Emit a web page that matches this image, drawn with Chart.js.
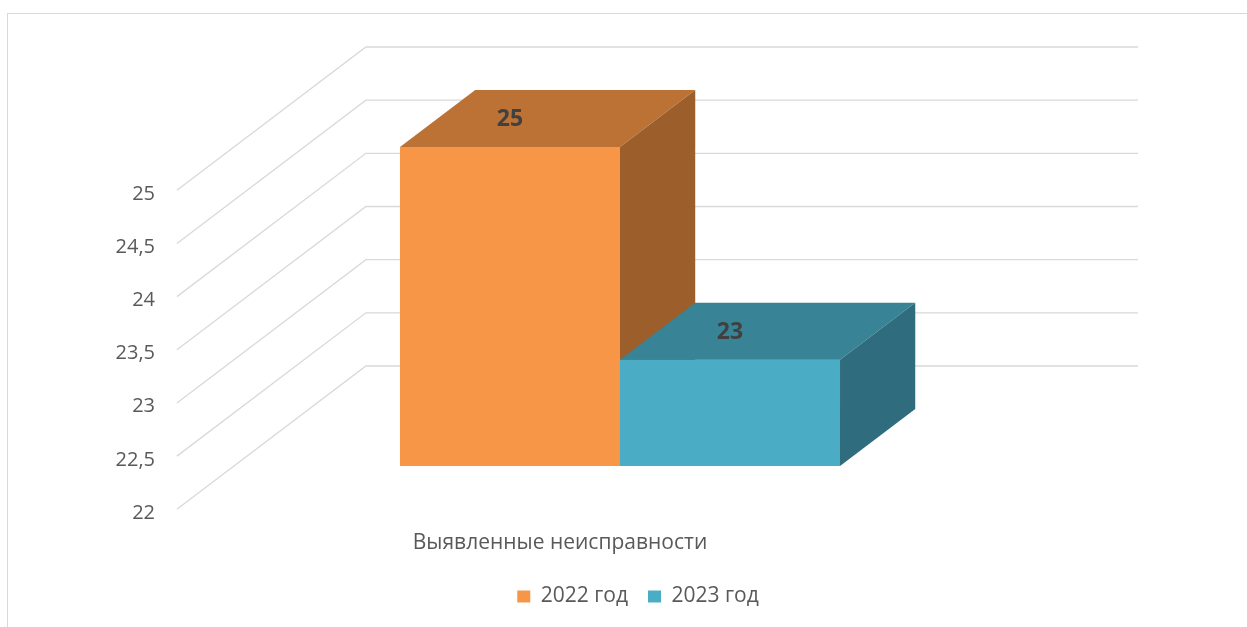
<!DOCTYPE html>
<html>
<head>
<meta charset="utf-8">
<script src="https://cdn.jsdelivr.net/npm/chart.js@4.4.1/dist/chart.umd.min.js"></script>
<style>
  body { margin: 0; background: #fff; }
</style>
</head>
<body>
<canvas id="chart" width="1247" height="627"></canvas>
<script>
const categories = ['Выявленные неисправности']
const seriesNames = ['2022 год', '2023 год']
const values2022 = [25]
const values2023 = [23]
const yTicks = [22, 22.5, 23, 23.5, 24, 24.5, 25]

const frontColors = ['#F79646', '#4BACC6']
const topColors = ['#BC7235', '#398396']
const sideColors = ['#9C5F2C', '#2F6C7D']

const FONT = "'Open Sans', sans-serif"

// depth vector from the front wall to the back wall (pixels)
const DEPTH_X = 189
const DEPTH_Y = -143.3
// positions along that vector, measured from the bar front plane (= chart area)
const FRONT_T = -0.302
const BACK_T = 0.698
const BAR_T = 0.398

const shift = (x, y, t) => [x + DEPTH_X * t, y + DEPTH_Y * t]

const box3d = {
	id: 'box3d',
	beforeDraw(chart) {
		const { ctx } = chart
		ctx.save()
		ctx.strokeStyle = '#d9d9d9'
		ctx.lineWidth = 1
		ctx.strokeRect(7.5, 13.5, chart.width + 20, chart.height + 20)
		ctx.restore()
	},
	afterLayout(chart) {
		// legend sits a bit right of the plot centre in the original
		chart.legend.left += 18
		chart.legend.right += 18
	},
	beforeDatasetsDraw(chart) {
		const { ctx, chartArea, scales } = chart
		ctx.save()
		ctx.strokeStyle = '#d9d9d9'
		ctx.lineWidth = 1.3
		yTicks.forEach(v => {
			const y = scales.y.getPixelForValue(v)
			const a = shift(chartArea.left, y, FRONT_T)
			const b = shift(chartArea.left, y, BACK_T)
			const c = shift(chartArea.right, y, BACK_T)
			ctx.beginPath()
			ctx.moveTo(a[0], a[1])
			ctx.lineTo(b[0], b[1])
			ctx.lineTo(c[0], c[1])
			ctx.stroke()
		})
		ctx.restore()
	},
	afterDatasetsDraw(chart) {
		const { ctx } = chart
		const dx = DEPTH_X * BAR_T
		const dy = DEPTH_Y * BAR_T
		ctx.save()
		chart.data.datasets.forEach((ds, i) => {
			const meta = chart.getDatasetMeta(i)
			meta.data.forEach((bar, j) => {
				const l = bar.x - bar.width / 2
				const r = bar.x + bar.width / 2
				const top = bar.y
				const base = bar.base

				// front face
				ctx.fillStyle = frontColors[i]
				ctx.fillRect(l, top, r - l, base - top)

				// top face
				ctx.fillStyle = topColors[i]
				ctx.beginPath()
				ctx.moveTo(l, top)
				ctx.lineTo(r, top)
				ctx.lineTo(r + dx, top + dy)
				ctx.lineTo(l + dx, top + dy)
				ctx.closePath()
				ctx.fill()

				// side face
				ctx.fillStyle = sideColors[i]
				ctx.beginPath()
				ctx.moveTo(r, top)
				ctx.lineTo(r + dx, top + dy)
				ctx.lineTo(r + dx, base + dy)
				ctx.lineTo(r, base)
				ctx.closePath()
				ctx.fill()

				// value label on the top face
				ctx.fillStyle = '#404040'
				ctx.font = 'bold 23px ' + FONT
				ctx.textAlign = 'center'
				ctx.textBaseline = 'middle'
				ctx.fillText(String(ds.data[j]), bar.x, top + dy / 2 + 1)
			})
		})
		ctx.restore()
	},
}

new Chart(document.getElementById('chart'), {
	type: 'bar',
	data: {
		labels: categories,
		datasets: [
			{ label: seriesNames[0], data: values2022, backgroundColor: frontColors[0], base: 22 },
			{ label: seriesNames[1], data: values2023, backgroundColor: frontColors[1], base: 22 },
		],
	},
	options: {
		responsive: false,
		animation: false,
		categoryPercentage: 0.57,
		barPercentage: 1,
		layout: { padding: { top: 147, left: 0, right: 241, bottom: 10 } },
		plugins: {
			tooltip: { enabled: false },
			legend: {
				position: 'bottom',
				fullSize: false,
				labels: {
					boxWidth: 13,
					boxHeight: 12,
					padding: 20,
					color: '#595959',
					font: { family: FONT, size: 21 },
				},
			},
		},
		scales: {
			x: {
				grid: { display: false, drawTicks: false },
				border: { display: false },
				ticks: {
					color: '#595959',
					font: { family: FONT, size: 21 },
					padding: 64,
					labelOffset: -60,
				},
				afterFit: scale => {
					scale.height = 100
				},
			},
			y: {
				min: 22,
				max: 25,
				grid: { display: false, drawTicks: false },
				border: { display: false },
				afterBuildTicks: scale => {
					scale.ticks = yTicks.map(v => ({ value: v }))
				},
				ticks: {
					color: '#595959',
					font: { family: FONT, size: 20 },
					padding: 79,
					labelOffset: 47,
					callback: v => String(v).replace('.', ','),
				},
				afterFit: scale => {
					scale.width = 234
				},
			},
		},
	},
	plugins: [box3d],
})
</script>
</body>
</html>
